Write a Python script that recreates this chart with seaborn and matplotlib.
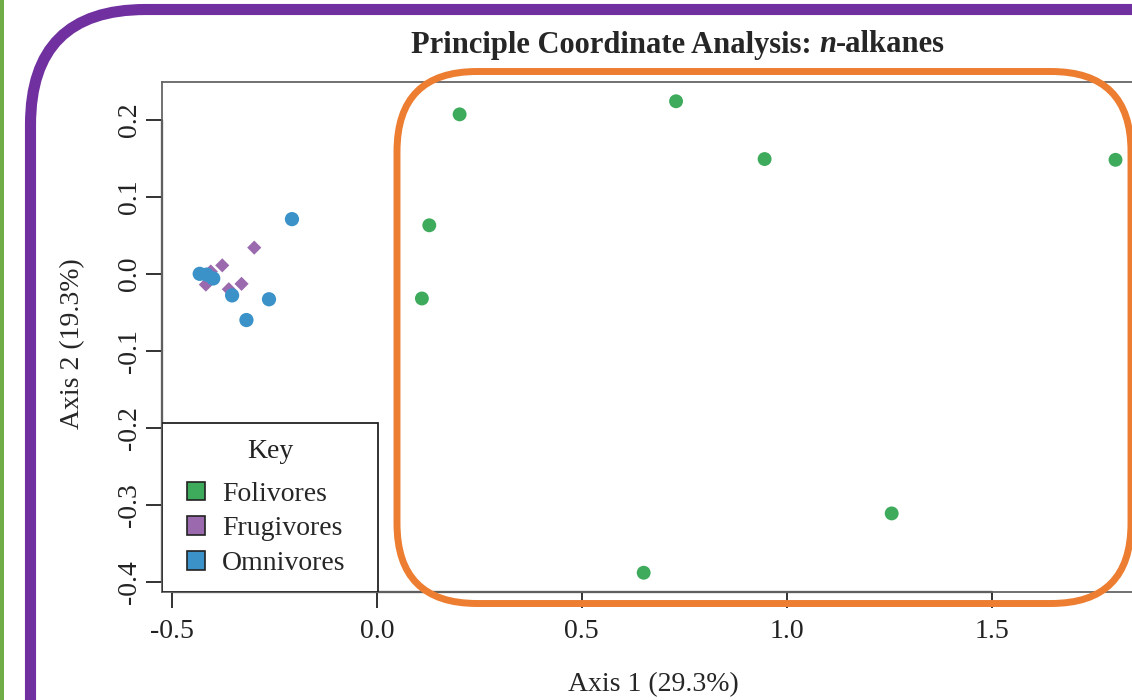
import numpy as np
import pandas as pd
import seaborn as sns
import matplotlib.pyplot as plt
from matplotlib.patches import Patch, FancyBboxPatch, Rectangle
from matplotlib.transforms import IdentityTransform

# PCoA scores
folivores_x = [0.202, 0.730, 0.946, 1.802, 0.128, 0.110, 1.256, 0.651]
folivores_y = [0.207, 0.224, 0.149, 0.148, 0.063, -0.032, -0.311, -0.388]
frugivores_x = [-0.299, -0.377, -0.330, -0.361, -0.417, -0.405]
frugivores_y = [0.034, 0.011, -0.013, -0.020, -0.014, 0.003]
omnivores_x = [-0.207, -0.432, -0.415, -0.399, -0.353, -0.263, -0.318]
omnivores_y = [0.071, 0.000, -0.001, -0.006, -0.028, -0.033, -0.060]

groups = ['Folivores', 'Frugivores', 'Omnivores']
colors = ['#3DAA5C', '#9B6AAE', '#3A92C8']
x_ticks = [-0.5, 0.0, 0.5, 1.0, 1.5]
y_ticks = [-0.4, -0.3, -0.2, -0.1, 0.0, 0.1, 0.2]

df = pd.concat([
    pd.DataFrame({'axis1': folivores_x, 'axis2': folivores_y, 'diet': 'Folivores'}),
    pd.DataFrame({'axis1': frugivores_x, 'axis2': frugivores_y, 'diet': 'Frugivores'}),
    pd.DataFrame({'axis1': omnivores_x, 'axis2': omnivores_y, 'diet': 'Omnivores'}),
], ignore_index=True)

sns.set_style('white')
plt.rcParams['font.family'] = ['Liberation Serif', 'DejaVu Serif']

W, H = 1132, 700
fig = plt.figure(figsize=(W / 100, H / 100), dpi=100)
# plot region runs past the right edge, as in the cropped screenshot
ax = fig.add_axes([162 / W, 108 / H, 990 / W, 510 / H])

sns.scatterplot(data=df, x='axis1', y='axis2', hue='diet', style='diet', size='diet',
                palette=dict(zip(groups, colors)),
                markers={'Folivores': 'o', 'Frugivores': 'D', 'Omnivores': 'o'},
                sizes={'Folivores': 100, 'Frugivores': 52, 'Omnivores': 105},
                linewidth=0, legend=False, ax=ax)

ax.set_xlim(-0.524, 1.891)
ax.set_ylim(-0.413, 0.249)
ax.set_xticks(x_ticks)
ax.set_xticklabels([f'{v:.1f}' for v in x_ticks])
ax.set_yticks(y_ticks)
ax.set_yticklabels([f'{v:.1f}' for v in y_ticks], rotation=90, va='center')
ax.set_xlabel('')
ax.set_ylabel('')
ax.tick_params(bottom=True, left=True, direction='out', length=11.5, width=1.3,
               labelsize=20, colors='#222222')
ax.tick_params(axis='x', pad=8)
ax.tick_params(axis='y', pad=3)
for sp in ax.spines.values():
    sp.set_color('#666666')
    sp.set_linewidth(1.3)
ax.plot([-0.5, 1.5], [0, 0], transform=ax.get_xaxis_transform(), color='#222222', lw=1.6, clip_on=False)
ax.plot([0, 0], [-0.4, 0.2], transform=ax.get_yaxis_transform(), color='#222222', lw=1.6, clip_on=False)

# legend box in the lower left corner, R style
ax.add_patch(Rectangle((0, 0), (378 - 162) / 990, (592 - 423) / 510, transform=ax.transAxes,
                       facecolor='white', edgecolor='#222222', linewidth=1.3, zorder=4))
ax.text((270 - 162) / 990, (592 - 452) / 510, 'Key', transform=ax.transAxes, fontsize=20,
        ha='center', va='center', color='#222222', zorder=5)
handles = [Patch(facecolor=c, edgecolor='#222222', linewidth=1.2) for c in colors]
leg = ax.legend(handles, groups, loc='lower left',
                bbox_to_anchor=((187 - 162) / 990, 0.031), borderaxespad=0, borderpad=0,
                fontsize=20, frameon=False,
                handlelength=0.65, handleheight=0.65, handletextpad=0.6, labelspacing=0.35)
leg.set_zorder(5)

# title with bold italic n
t1 = fig.text(411 / W, 1 - 45 / H, 'Principle Coordinate Analysis: ', fontsize=22,
              fontweight='bold', ha='left', va='center')
t2 = ax.annotate('n', xy=(1, 0), xycoords=t1, fontsize=22, fontweight='bold',
                 fontstyle='italic', ha='left', va='bottom')
ax.annotate('-alkanes', xy=(1, 0), xycoords=t2, fontsize=22, fontweight='bold',
            ha='left', va='bottom')

fig.text(653 / W, 1 - 685 / H, 'Axis 1 (29.3%)', fontsize=20, ha='center', va='center')
fig.text(73 / W, 1 - 344 / H, 'Axis 2 (19.3%)', fontsize=20, ha='center', va='center',
         rotation=90)

# screenshot decorations
px = IdentityTransform()
fig.patches.append(Rectangle((0, 0), 4, H, transform=px, facecolor='#70AD47',
                             edgecolor='none', zorder=5))
fig.patches.append(FancyBboxPatch((30.5, -200), 1400, H - 9.5 + 200, transform=px,
                                  boxstyle='round,pad=0,rounding_size=115',
                                  facecolor='none', edgecolor='#7030A0', linewidth=8, zorder=5))
fig.patches.append(FancyBboxPatch((397, H - 603.5), 1131 - 397, 603.5 - 71.5, transform=px,
                                  boxstyle='round,pad=0,rounding_size=80',
                                  facecolor='none', edgecolor='#ED7D31', linewidth=5, zorder=5))

fig.savefig('out.png', dpi=100)
